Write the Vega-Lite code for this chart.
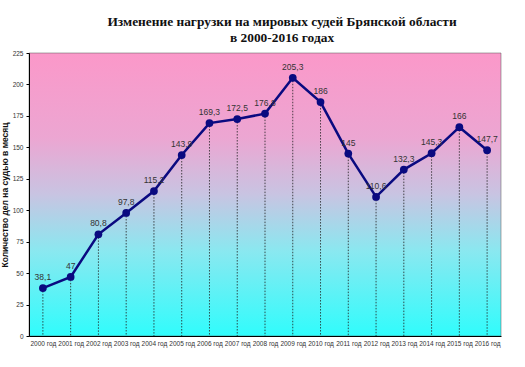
{
  "$schema": "https://vega.github.io/schema/vega-lite/v6.json",
  "width": 472,
  "height": 283,
  "autosize": {"type": "none"},
  "padding": {"left": 29, "top": 53, "right": 24, "bottom": 31},
  "background": "white",
  "title": {
    "text": ["Изменение нагрузки на мировых судей Брянской области", "в 2000-2016 годах"],
    "font": "Liberation Serif",
    "fontSize": 13.4,
    "fontWeight": "bold",
    "color": "#111111",
    "anchor": "middle",
    "frame": "group",
    "offset": 6,
    "dx": 17,
    "lineHeight": 16
  },
  "config": {
    "view": {
      "stroke": "#555555",
      "strokeWidth": 0.5,
      "fill": {
        "gradient": "linear",
        "x1": 0, "y1": 0, "x2": 0, "y2": 1,
        "stops": [
          {"offset": 0, "color": "#fb98c9"},
          {"offset": 0.3, "color": "#eca6d2"},
          {"offset": 0.5, "color": "#c8c4e2"},
          {"offset": 0.7, "color": "#8ae8f0"},
          {"offset": 1, "color": "#30fcfc"}
        ]
      }
    },
    "font": "Liberation Sans"
  },
  "data": {
    "values": [
      {"year": "2000 год", "value": 38.1, "label": "38,1"},
      {"year": "2001 год", "value": 47, "label": "47"},
      {"year": "2002 год", "value": 80.8, "label": "80,8"},
      {"year": "2003 год", "value": 97.8, "label": "97,8"},
      {"year": "2004 год", "value": 115.2, "label": "115,2"},
      {"year": "2005 год", "value": 143.9, "label": "143,9"},
      {"year": "2006 год", "value": 169.3, "label": "169,3"},
      {"year": "2007 год", "value": 172.5, "label": "172,5"},
      {"year": "2008 год", "value": 176.8, "label": "176,8"},
      {"year": "2009 год", "value": 205.3, "label": "205,3"},
      {"year": "2010 год", "value": 186, "label": "186"},
      {"year": "2011 год", "value": 145, "label": "145"},
      {"year": "2012 год", "value": 110.6, "label": "110,6"},
      {"year": "2013 год", "value": 132.3, "label": "132,3"},
      {"year": "2014 год", "value": 145.3, "label": "145,3"},
      {"year": "2015 год", "value": 166, "label": "166"},
      {"year": "2016 год", "value": 147.7, "label": "147,7"}
    ]
  },
  "encoding": {
    "x": {
      "field": "year",
      "type": "ordinal",
      "sort": null,
      "scale": {"type": "point", "padding": 0.5},
      "axis": {
        "title": null,
        "labelAngle": 0,
        "labelFontSize": 6.5,
        "labelColor": "#333333",
        "labelPadding": 4,
        "ticks": false,
        "domainColor": "#000000",
        "domainWidth": 1,
        "grid": false
      }
    },
    "y": {
      "field": "value",
      "type": "quantitative",
      "scale": {"domain": [0, 225], "nice": false},
      "axis": {
        "title": "Количество дел на судью в месяц",
        "titleFontSize": 8.5,
        "titleFontWeight": "bold",
        "titleColor": "#111111",
        "titlePadding": 3,
        "values": [0, 25, 50, 75, 100, 125, 150, 175, 200, 225],
        "labelFontSize": 6.5,
        "labelColor": "#333333",
        "labelPadding": 3,
        "tickSize": 3,
        "tickColor": "#000000",
        "domainColor": "#000000",
        "domainWidth": 1,
        "grid": false
      }
    }
  },
  "layer": [
    {
      "mark": {"type": "rule", "color": "#222222", "strokeWidth": 0.8, "strokeDash": [1.5, 1.5]},
      "encoding": {"y2": {"datum": 0}}
    },
    {
      "mark": {"type": "line", "color": "#0a0a80", "strokeWidth": 2.5}
    },
    {
      "mark": {"type": "point", "filled": true, "color": "#0a0a80", "size": 60, "opacity": 1}
    },
    {
      "mark": {"type": "text", "dy": -11, "fontSize": 8.5, "color": "#333333"},
      "encoding": {"text": {"field": "label"}}
    }
  ]
}
